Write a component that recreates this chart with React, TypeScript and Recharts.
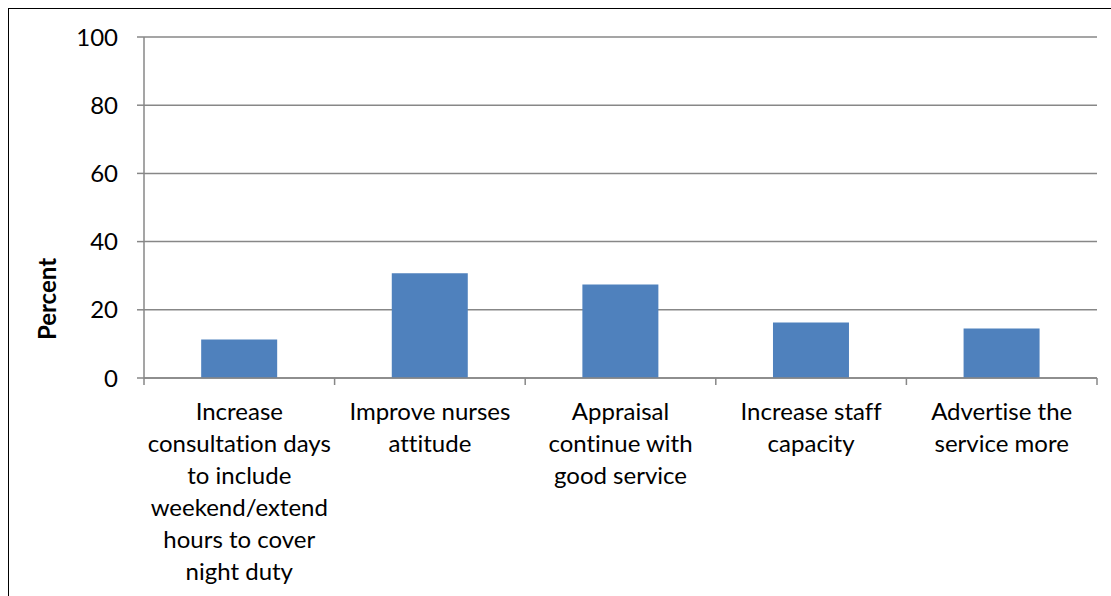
import { BarChart, Bar, XAxis, YAxis, CartesianGrid } from 'recharts'

const categories = [
  'Increase consultation days to include weekend/extend hours to cover night duty',
  'Improve nurses attitude',
  'Appraisal continue with good service',
  'Increase staff capacity',
  'Advertise the service more',
]

// line breaks as they appear under each bar
const labelLines = [
  ['Increase', 'consultation days', 'to include', 'weekend/extend', 'hours to cover', 'night duty'],
  ['Improve nurses', 'attitude'],
  ['Appraisal', 'continue with', 'good service'],
  ['Increase staff', 'capacity'],
  ['Advertise the', 'service more'],
]

const percent = [11.3, 30.7, 27.4, 16.3, 14.5]
const yTicks = [0, 20, 40, 60, 80, 100]

const data = categories.map((name, i) => ({ name, percent: percent[i] }))

const FONT = 'Lato, "Open Sans", sans-serif'
const GRID = '#878787'
const noLig = { fontVariantLigatures: 'none' as const }

// eslint-disable-next-line @typescript-eslint/no-explicit-any
function CategoryTick(props: any) {
  const { x, y, payload, index } = props
  const half = payload?.offset ?? 95.4
  const axisY = y - 7
  const lines = labelLines[index] ?? [String(payload.value)]
  return (
    <g>
      <line x1={x - half} y1={axisY} x2={x - half} y2={axisY + 7} stroke={GRID} strokeWidth={1.5} />
      {index === categories.length - 1 && (
        <line x1={x + half} y1={axisY} x2={x + half} y2={axisY + 7} stroke={GRID} strokeWidth={1.5} />
      )}
      <text x={x} y={y + 35} textAnchor="middle" fill="#000" fontSize={24} fontFamily={FONT} style={noLig}>
        {lines.map((l, i) => (
          <tspan key={i} x={x} dy={i === 0 ? 0 : 32}>
            {l}
          </tspan>
        ))}
      </text>
    </g>
  )
}

export default function App() {
  return (
    <div style={{ position: 'absolute', left: 0, top: 0, width: 1111, height: 596, overflow: 'hidden', background: '#fff' }}>
      <div
        style={{
          position: 'absolute',
          left: 8,
          top: 8,
          width: 1200,
          height: 700,
          border: '1.5px solid #000',
        }}
      />
      <div style={{ position: 'absolute', left: 0, top: 0 }}>
        <BarChart
          width={1111}
          height={596}
          data={data}
          margin={{ top: 37, right: 14, left: 0, bottom: 8 }}
          barCategoryGap="30%"
        >
          <CartesianGrid vertical={false} stroke={GRID} strokeWidth={1.5} />
          <XAxis
            dataKey="name"
            height={210}
            interval={0}
            tickLine={false}
            tickSize={7}
            tickMargin={0}
            axisLine={{ stroke: GRID, strokeWidth: 1.5 }}
            tick={<CategoryTick />}
          />
          <YAxis
            width={144}
            domain={[0, 100]}
            ticks={yTicks}
            tickSize={7}
            tickMargin={19}
            tickLine={{ stroke: GRID, strokeWidth: 1.5 }}
            axisLine={{ stroke: GRID, strokeWidth: 1.5 }}
            tick={{ fill: '#000', fontSize: 24, fontFamily: FONT }}
            label={() => (
              <text
                x={46.5}
                y={299}
                transform="rotate(-90 46.5 299)"
                textAnchor="middle"
                dominantBaseline="central"
                fontWeight="bold"
                fontSize={24}
                fontFamily={FONT}
                fill="#000"
              >
                Percent
              </text>
            )}
          />
          <Bar dataKey="percent" fill="#4F81BD" isAnimationActive={false} />
        </BarChart>
      </div>
    </div>
  )
}
